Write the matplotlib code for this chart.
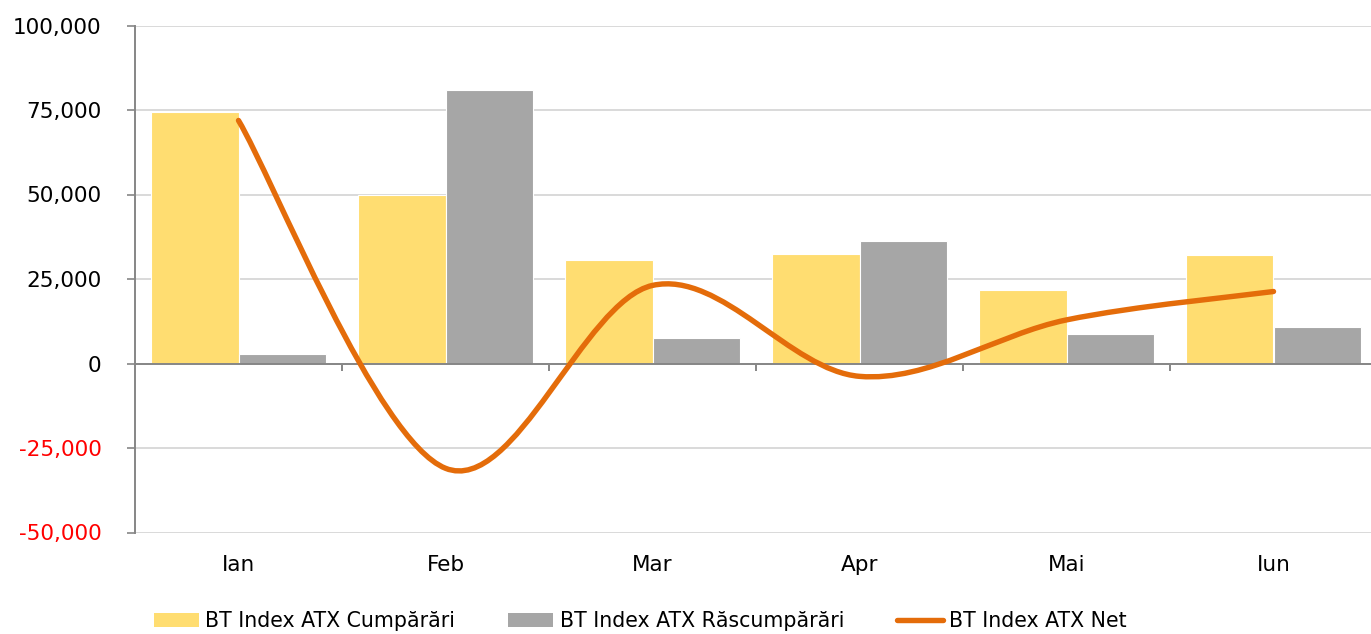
import matplotlib
matplotlib.use("Agg")
import matplotlib.pyplot as plt
import numpy as np
from matplotlib.path import Path
from matplotlib.patches import PathPatch, Patch
from matplotlib.lines import Line2D
from matplotlib.ticker import FuncFormatter

# data
months = ["Ian", "Feb", "Mar", "Apr", "Mai", "Iun"]
cumparari = [74500, 49900, 30600, 32400, 21700, 32000]
rascumparari = [2800, 80900, 7500, 36200, 8800, 10700]
net = [71900, -31000, 23100, -3800, 12900, 21300]
y_ticks = [-50000, -25000, 0, 25000, 50000, 75000, 100000]

YELLOW = "#FFDD71"
GRAY = "#A6A6A6"
ORANGE = "#E46C0A"
AXIS = "#868686"

plt.rcParams["font.family"] = ["DejaVu Sans"]

fig = plt.figure(figsize=(13.71, 6.34), dpi=100)
W, H = 1371, 634
ax = fig.add_axes([135 / W, (H - 532.5) / H, (1377 - 135) / W, (532.5 - 25.5) / H])

x = np.arange(len(months))
bw = 0.425
ax.bar(x - bw / 2, cumparari, bw, color=YELLOW, edgecolor="white", linewidth=0.8, zorder=2)
ax.bar(x + bw / 2, rascumparari, bw, color=GRAY, edgecolor="white", linewidth=0.8, zorder=2)


def smooth_path(xs, ys):
    # Catmull-Rom style bezier, like Excel's smoothed line
    pts = np.column_stack([xs, ys]).astype(float)
    n = len(pts)
    verts = [pts[0]]
    codes = [Path.MOVETO]
    for i in range(n - 1):
        p0 = pts[i - 1] if i > 0 else pts[i]
        p1 = pts[i]
        p2 = pts[i + 1]
        p3 = pts[i + 2] if i + 2 < n else pts[i + 1]
        verts += [p1 + (p2 - p0) / 6, p2 - (p3 - p1) / 6, p2]
        codes += [Path.CURVE4] * 3
    return Path(verts, codes)


ax.add_patch(PathPatch(smooth_path(x, net), facecolor="none", edgecolor=ORANGE,
                       linewidth=3.9, capstyle="round", zorder=3))

ax.set_xlim(-0.5, len(months) - 0.5)
ax.set_ylim(-50000, 100000)
ax.set_yticks(y_ticks)
ax.yaxis.set_major_formatter(FuncFormatter(lambda v, p: f"{int(v):,}"))
ax.tick_params(axis="y", length=6, width=1.2, color=AXIS, pad=18, labelsize=15.5)
for lbl, v in zip(ax.get_yticklabels(), y_ticks):
    if v < 0:
        lbl.set_color("red")
ax.grid(axis="y", color="#D9D9D9", linewidth=1.4, zorder=0)
ax.set_axisbelow(True)

for s in ["top", "right"]:
    ax.spines[s].set_visible(False)
ax.spines["left"].set_color(AXIS)
ax.spines["left"].set_linewidth(1.4)
ax.spines["bottom"].set_position(("data", 0))
ax.spines["bottom"].set_color(AXIS)
ax.spines["bottom"].set_linewidth(1.4)
ax.spines["bottom"].set_zorder(2.5)
ax.set_xticks(x[:-1] + 0.5)
ax.set_xticklabels([])
ax.tick_params(axis="x", length=5, width=1.4, color=AXIS)

sec = ax.secondary_xaxis("bottom")
sec.set_xticks(x, labels=months)
sec.tick_params(length=0, pad=16, labelsize=15.5)
sec.spines["bottom"].set_visible(False)

handles = [
    Patch(facecolor=YELLOW, label="BT Index ATX Cumpărări"),
    Patch(facecolor=GRAY, label="BT Index ATX Răscumpărări"),
    Line2D([], [], color=ORANGE, linewidth=3.9, solid_capstyle="round", label="BT Index ATX Net"),
]
fig.legend(handles=handles, loc="center", bbox_to_anchor=(640 / W, 1 - 621 / H), ncol=3,
           frameon=False, fontsize=14.8, handlelength=2.2, handleheight=0.65,
           handletextpad=0.3, columnspacing=2.6)

fig.savefig("out.png", dpi=100)
